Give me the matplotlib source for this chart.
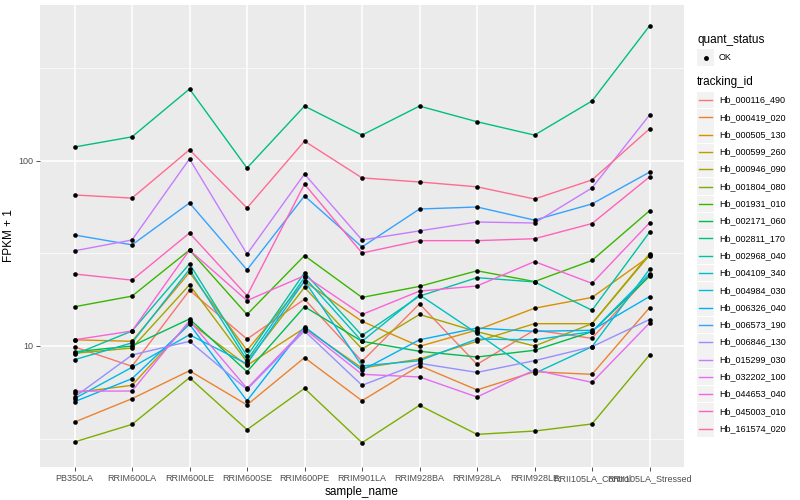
import numpy as np
import matplotlib
matplotlib.use("Agg")
import matplotlib.pyplot as plt
from matplotlib.patches import Rectangle
from matplotlib.lines import Line2D

plt.rcParams['font.family'] = ['Liberation Sans', 'DejaVu Sans']

samples = ['PB350LA', 'RRIM600LA', 'RRIM600LE', 'RRIM600SE', 'RRIM600PE',
           'RRIM901LA', 'RRIM928BA', 'RRIM928LA', 'RRIM928LE',
           'RRII105LA_Control', 'RRII105LA_Stressed']

tracking_ids = ['Hb_000116_490', 'Hb_000419_020', 'Hb_000505_130', 'Hb_000599_260',
                'Hb_000946_090', 'Hb_001804_080', 'Hb_001931_010', 'Hb_002171_060',
                'Hb_002811_170', 'Hb_002968_040', 'Hb_004109_340', 'Hb_004984_030',
                'Hb_006326_040', 'Hb_006573_190', 'Hb_006846_130', 'Hb_015299_030',
                'Hb_032202_100', 'Hb_044653_040', 'Hb_045003_010', 'Hb_161574_020']

# ggplot2 default hue palette for 20 levels
colors = ['#F8766D', '#EA8331', '#D89000', '#C09B00', '#A3A500', '#7CAE00',
          '#39B600', '#00BB4E', '#00BF7D', '#00C1A3', '#00BFC4', '#00BAE0',
          '#00B0F6', '#35A2FF', '#9590FF', '#C77CFF', '#E76BF3', '#FA62DB',
          '#FF62BC', '#FF6C91']

# FPKM + 1, one list per tracking_id, in sample order
fpkm = [
    [9.88, 7.77, 20.0, 10.9, 17.9, 8.26, 16.9, 7.96, 12.2, 11.0, 24.2],    # 000116_490
    [3.88, 5.19, 7.35, 4.8, 8.65, 5.06, 7.83, 5.79, 7.26, 7.03, 16.1],     # 000419_020
    [10.8, 10.6, 25.0, 9.48, 22.3, 13.6, 9.96, 12.2, 16.0, 18.3, 30.5],    # 000505_130
    [5.6, 6.13, 13.4, 7.86, 12.5, 7.6, 8.5, 10.6, 13.2, 13.2, 31.5],       # 000599_260
    [9.13, 9.75, 21.4, 8.19, 20.75, 9.63, 14.8, 11.95, 10.0, 13.2, 31.0],  # 000946_090
    [3.03, 3.77, 6.74, 3.53, 5.9, 3.0, 4.78, 3.33, 3.47, 3.79, 8.94],      # 001804_080
    [16.3, 18.6, 33.0, 14.8, 30.8, 18.3, 21.0, 25.5, 22.3, 29.0, 53.8],    # 001931_010
    [9.3, 10.0, 14.0, 7.26, 16.3, 10.6, 9.36, 8.72, 9.48, 11.95, 23.8],    # 002171_060
    [119, 135, 245, 91.6, 198, 138, 198, 163, 138, 211, 537],              # 002811_170
    [9.0, 12.05, 27.8, 8.83, 24.9, 11.4, 18.6, 23.4, 22.2, 15.6, 41.2],    # 002968_040
    [8.43, 10.4, 26.0, 8.37, 23.5, 10.6, 18.9, 11.7, 7.11, 9.91, 26.0],    # 004109_340
    [5.2, 7.67, 11.5, 8.0, 22.5, 7.8, 8.33, 10.9, 10.8, 11.95, 24.6],      # 004984_030
    [5.0, 6.66, 13.1, 5.06, 12.7, 7.4, 10.8, 12.5, 12.0, 12.16, 18.5],     # 006326_040
    [39.8, 35.2, 59.3, 25.8, 64.7, 34.3, 55.0, 56.4, 47.9, 58.6, 87.0],    # 006573_190
    [5.3, 8.94, 10.6, 5.83, 12.06, 6.13, 8.06, 7.2, 8.33, 9.91, 13.9],     # 006846_130
    [32.7, 37.4, 102.6, 31.4, 85.0, 37.4, 41.9, 46.8, 46.2, 71.5, 177],    # 015299_030
    [5.7, 5.71, 13.7, 5.9, 12.35, 7.03, 6.8, 5.3, 7.42, 6.36, 13.3],       # 032202_100
    [10.8, 12.05, 33.0, 17.6, 24.0, 14.8, 19.8, 21.1, 28.6, 21.8, 46.3],   # 044653_040
    [24.5, 22.7, 40.8, 18.7, 75.0, 31.8, 37.1, 37.1, 38.0, 45.9, 82.0],    # 045003_010
    [65.5, 63.0, 115, 55.7, 128, 81.0, 77.0, 72.5, 62.3, 79.0, 149],       # 161574_020
]

W, H = 800, 500
fig = plt.figure(figsize=(8, 5), dpi=100)
ax = fig.add_axes([40 / W, 33 / H, 644 / W, 462 / H])
ax.set_facecolor('#EBEBEB')
ax.set_yscale('log')

x = np.arange(len(samples))
for vals, col in zip(fpkm, colors):
    ax.plot(x, vals, color=col, lw=1.0, zorder=3)
    ax.scatter(x, vals, s=11, marker='o', color='black', zorder=4, linewidths=0)

ax.set_xlim(-0.6, len(samples) - 0.4)
ax.set_ylim(10 ** 0.346, 10 ** 2.843)

# grid like ggplot
for xi in x:
    ax.axvline(xi, color='white', lw=1.1, zorder=1)
for yv in [10, 100]:
    ax.axhline(yv, color='white', lw=1.1, zorder=1)
for yv in [10 ** 0.5, 10 ** 1.5, 10 ** 2.5]:
    ax.axhline(yv, color='white', lw=0.5, zorder=1)

ax.set_xticks(x)
ax.set_xticklabels(samples, fontsize=6.5, color='#4D4D4D')
ax.set_yticks([10, 100])
ax.set_yticklabels(['10', '100'], fontsize=6.5, color='#4D4D4D')
ax.yaxis.set_minor_locator(matplotlib.ticker.NullLocator())
ax.tick_params(axis='both', length=3, width=0.6, color='#333333', pad=2)
for s in ax.spines.values():
    s.set_visible(False)
ax.set_xlabel('sample_name', fontsize=8.5, labelpad=2)
ax.set_ylabel('FPKM + 1', fontsize=8.5, labelpad=2)

# legend drawn in pixel coordinates
lg = fig.add_axes([0, 0, 1, 1], facecolor='none')
lg.set_xlim(0, W)
lg.set_ylim(H, 0)
lg.axis('off')

lg.text(697, 40, 'quant_status', fontsize=8.5, va='center', ha='left')
lg.add_patch(Rectangle((697, 49), 17, 17, facecolor='#F2F2F2', edgecolor='none'))
lg.plot([705.5], [57.5], marker='o', ms=2.5, color='black')
lg.text(719, 57.5, 'OK', fontsize=6.5, va='center', ha='left')

lg.text(697, 82, 'tracking_id', fontsize=8.5, va='center', ha='left')
for i, (name, col) in enumerate(zip(tracking_ids, colors)):
    yc = 100 + i * 17.3
    lg.add_patch(Rectangle((697, yc - 8.3), 17, 16.6, facecolor='#F2F2F2', edgecolor='none'))
    lg.add_line(Line2D([699, 712], [yc, yc], color=col, lw=1.0))
    lg.text(719, yc, name, fontsize=6.5, va='center', ha='left')

fig.savefig('out.png', dpi=100)
